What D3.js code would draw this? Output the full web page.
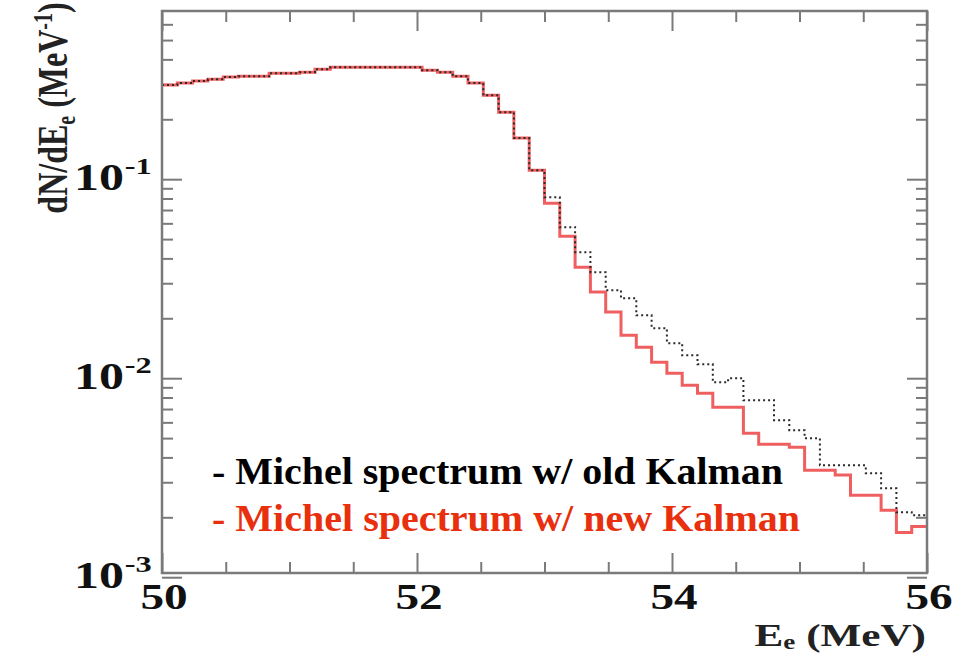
<!DOCTYPE html>
<html>
<head>
<meta charset="utf-8">
<script src="https://cdn.jsdelivr.net/npm/d3@7"></script>
<style>
  body { margin: 0; background: #fff; }
  svg { display: block; }
  text { font-family: "Liberation Serif", "Times New Roman", serif; font-weight: bold; }
</style>
</head>
<body>
<svg id="chart" width="971" height="654"></svg>
<script>
// Energy window and binning of the histograms (MeV)
const energyRange = [50, 56];
const binCount = 50;

// dN/dE per bin, Michel spectrum reconstructed with the new Kalman fit
const newKalman = [
  0.297, 0.304, 0.311, 0.318, 0.326, 0.329, 0.329, 0.341, 0.341, 0.345,
  0.357, 0.365, 0.365, 0.365, 0.365, 0.365, 0.365, 0.353, 0.345, 0.329,
  0.304, 0.264, 0.217, 0.161, 0.111, 0.0757, 0.0517, 0.0361, 0.0271, 0.0215,
  0.01645, 0.01432, 0.01203, 0.01059, 0.00922, 0.00841, 0.00715, 0.00715, 0.00529, 0.00466,
  0.00466, 0.00450, 0.00345, 0.00345, 0.00326, 0.00258, 0.00258, 0.00217, 0.00168, 0.00180
];

// dN/dE per bin, same spectrum with the old Kalman fit
const oldKalman = [
  0.297, 0.304, 0.311, 0.318, 0.326, 0.329, 0.329, 0.341, 0.341, 0.345,
  0.357, 0.365, 0.365, 0.365, 0.365, 0.365, 0.365, 0.353, 0.345, 0.329,
  0.304, 0.264, 0.217, 0.161, 0.111, 0.0812, 0.0574, 0.0430, 0.0341, 0.0277,
  0.0252, 0.0207, 0.01784, 0.0150, 0.01305, 0.01176, 0.00954, 0.0100, 0.00775, 0.00775,
  0.00615, 0.00548, 0.00499, 0.00365, 0.00365, 0.00365, 0.00333, 0.00280, 0.00212, 0.00205
];

const xTickValues = [50, 52, 54, 56];
const yTickValues = [1e-1, 1e-2, 1e-3];
const yTickExponents = ["-1", "-2", "-3"];
const legendLabels = ["- Michel spectrum w/ old Kalman", "- Michel spectrum w/ new Kalman"];

// ---- layout ----
const frame = { left: 162, right: 927, top: 11, bottom: 573 };
const SX = 1.35;               // horizontal stretch of the lettering
const frameColor = "#7a7a7a";

const svg = d3.select("#chart");

const x = d3.scaleLinear().domain(energyRange).range([frame.left, frame.right]);
const y = d3.scaleLog().domain([1.05e-3, 0.70]).range([frame.bottom, frame.top]);

const binWidth = (energyRange[1] - energyRange[0]) / binCount;
const edges = d3.range(binCount + 1).map(i => energyRange[0] + i * binWidth);

// ---- ticks on all four sides, pointing inward ----
const minorX = d3.range(energyRange[0], energyRange[1] + 1e-9, 0.5).filter(v => xTickValues.indexOf(v) < 0);
const minorY = [];
[1e-3, 1e-2, 1e-1].forEach(d => { for (let k = 2; k <= 9; k++) { const v = d * k; if (v <= 0.70) minorY.push(v); } });

function styleAxis(g) {
  g.select(".domain").remove();
  g.selectAll(".tick line").attr("stroke", frameColor).attr("stroke-width", 2);
  g.selectAll(".tick text").remove();
}

const axes = [
  [d3.axisBottom(x), `translate(0,${frame.bottom})`, xTickValues, minorX],
  [d3.axisTop(x), `translate(0,${frame.top})`, xTickValues, minorX],
  [d3.axisLeft(y), `translate(${frame.left},0)`, yTickValues, minorY],
  [d3.axisRight(y), `translate(${frame.right},0)`, yTickValues, minorY]
];
axes.forEach(([axis, tr, major, minor]) => {
  svg.append("g").attr("transform", tr)
    .call(axis.tickValues(major).tickSize(-20).tickFormat(""))
    .call(styleAxis);
  svg.append("g").attr("transform", tr)
    .call(axis.tickValues(minor).tickSize(-11).tickFormat(""))
    .call(styleAxis);
});

// ---- histograms as step lines ----
const step = d3.line()
  .x(d => x(d[0]))
  .y(d => y(d[1]))
  .curve(d3.curveStepAfter);

function stepPoints(values) {
  const pts = values.map((v, i) => [edges[i], v]);
  pts.push([edges[binCount], values[binCount - 1]]);
  return pts;
}

svg.append("path")
  .attr("d", step(stepPoints(newKalman)))
  .attr("fill", "none")
  .attr("stroke", "#ef5f5f")
  .attr("stroke-width", 3);

svg.append("path")
  .attr("d", step(stepPoints(oldKalman)))
  .attr("fill", "none")
  .attr("stroke", "#2a2a2a")
  .attr("stroke-width", 2)
  .attr("stroke-dasharray", "2,3");

// ---- frame ----
svg.append("rect")
  .attr("x", frame.left).attr("y", frame.top)
  .attr("width", frame.right - frame.left).attr("height", frame.bottom - frame.top)
  .attr("fill", "none").attr("stroke", frameColor).attr("stroke-width", 2.5);

// ---- tick labels ----
xTickValues.forEach(v => {
  svg.append("g")
    .attr("transform", `translate(${x(v) + 2},${frame.bottom + 36}) scale(${SX},1)`)
    .append("text")
    .attr("text-anchor", "middle")
    .attr("font-size", 35)
    .attr("fill", "#111")
    .text(v);
});

// decade labels: mantissa "10" and its exponent as two pieces
yTickValues.forEach((v, i) => {
  const g = svg.append("g")
    .attr("transform", `translate(124,${y(v) + 11}) scale(${SX},1)`);
  g.append("text")
    .attr("text-anchor", "end")
    .attr("font-size", 37)
    .attr("fill", "#111")
    .text("10");
  g.append("text")
    .attr("x", 0.5)
    .attr("y", -16)
    .attr("font-size", 24)
    .attr("fill", "#111")
    .text(yTickExponents[i]);
});

// ---- axis titles ----
const xt = svg.append("g")
  .attr("transform", `translate(926,646) scale(${SX},1)`)
  .append("text")
  .attr("text-anchor", "end")
  .attr("fill", "#222")
  .attr("font-size", 32);
xt.append("tspan").text("E");
xt.append("tspan").attr("font-size", 20).attr("dy", 3).text("e");
xt.append("tspan").attr("dy", -3).text(" (MeV)");

const yt = svg.append("g")
  .attr("transform", `translate(67,108) rotate(-90) scale(1,${SX})`)
  .append("text")
  .attr("text-anchor", "middle")
  .attr("fill", "#222")
  .attr("font-size", 32);
yt.append("tspan").text("dN/dE");
yt.append("tspan").attr("font-size", 20).attr("dy", 6).text("e");
yt.append("tspan").attr("dy", -6).text(" (MeV");
yt.append("tspan").attr("font-size", 20).attr("dy", -11).text("-1");
yt.append("tspan").attr("dy", 11).text(")");

// ---- legend text ----
const legendColors = ["#000000", "#e8300e"];
const legendLengths = [571, 588];
legendLabels.forEach((label, i) => {
  svg.append("text")
    .attr("x", 212)
    .attr("y", 484 + i * 47)
    .attr("font-size", 38)
    .attr("fill", legendColors[i])
    .attr("textLength", legendLengths[i])
    .attr("lengthAdjust", "spacingAndGlyphs")
    .text(label);
});
</script>
</body>
</html>
